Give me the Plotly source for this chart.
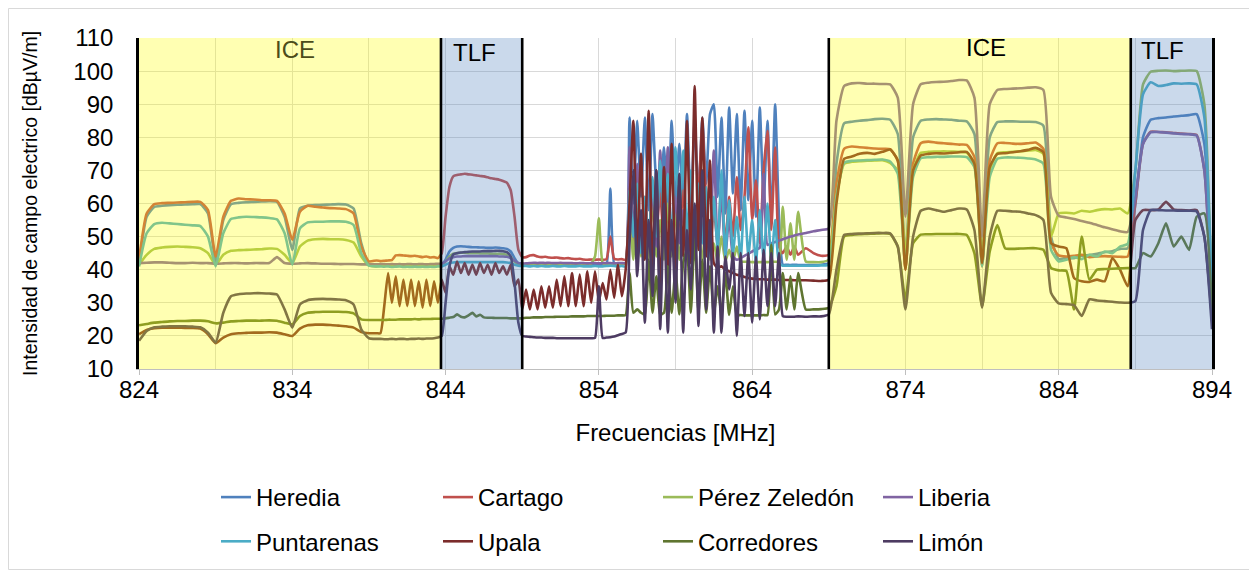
import numpy as np
import plotly.graph_objects as go

# Frequency grid [MHz]: 0.5 MHz steps, 0.25 MHz in the busy middle part
freq = np.round(np.concatenate([
    np.arange(824.0, 839.75, 0.5),     # 32 pts
    np.arange(839.75, 867.01, 0.25),   # 110 pts
    np.arange(867.5, 894.01, 0.5),     # 54 pts
]), 2)

# ---------------- series values [dBuV/m] ----------------
heredia = (
    [41.5, 56.0, 59.0, 59.3, 59.5, 59.6, 59.7, 59.8, 59.8, 57.0, 42.5, 55.0, 59.8, 60.2, 60.4, 60.5,
     60.6, 60.7, 60.5, 56.0, 46.0, 58.5, 59.3, 59.5, 59.6, 59.7, 59.8, 59.7, 58.5, 48.0, 41.5, 41.3]
    + [41.3, 41.2, 41.3, 41.2, 41.2, 41.3, 41.2, 41.1, 41.2, 41.2, 41.1, 41.2, 41.2, 41.1, 41.2, 41.3]
    + [41.5, 43.0, 45.5, 46.6, 47.0, 47.1, 47.0, 46.9, 46.8, 46.8, 46.7, 46.7, 46.6, 46.6, 46.7, 46.6,
       46.5, 46.3, 45.5, 43.5, 41.8, 41.5]
    + [41.5, 41.6, 41.5, 41.5, 41.4, 41.5, 41.4, 41.4, 41.5, 41.4, 41.4, 41.4, 41.3, 41.4, 41.4, 41.3,
       41.4, 41.4, 41.3, 41.4, 41.4, 41.5, 64.5, 41.8, 41.5, 41.6]
    + [42, 86, 60, 85, 62, 86, 58, 87, 66, 62, 77, 56, 85, 60, 78, 60, 87, 58, 85, 62, 86, 66, 87, 90,
       62, 86, 57, 89, 63, 87, 58, 88, 61, 85, 56, 89, 60, 85, 55, 90, 56, 41.5]
    + [41.5, 41.4, 41.5, 41.4]
    + [41.4, 41.4, 41.5, 42.0, 72.0, 84.2, 84.7, 85.0, 85.2, 85.5, 85.6, 85.3, 81.0, 43.0, 80.0, 85.0,
       85.4, 85.5, 85.4, 85.3, 85.0, 84.8, 81.0, 42.0, 80.0, 84.6, 84.8, 84.8, 84.7, 84.7, 84.6, 83.5,
       50.0, 43.2, 43.6, 43.5, 44.2, 44.4, 44.8, 45.3, 45.6, 46.3, 46.5, 60.0, 80.0, 85.3, 85.8, 86.0,
       86.3, 86.5, 86.7, 87.0, 78.0, 35.0]
)
cartago = (
    [43.0, 57.0, 59.8, 60.1, 60.2, 60.3, 60.4, 60.5, 60.5, 58.0, 44.0, 56.0, 60.8, 61.5, 61.3, 61.2,
     61.0, 61.0, 60.8, 57.0, 49.0, 57.5, 59.3, 59.0, 58.8, 58.6, 58.5, 58.3, 57.0, 47.0, 42.5, 42.8]
    + [42.6, 42.7, 42.8, 42.9, 44.3, 44.4, 44.3, 44.2, 44.1, 44.2, 44.0, 43.8, 44.0, 43.7, 43.8, 43.5]
    + [45.0, 56.0, 65.0, 68.2, 68.6, 68.8, 69.0, 68.8, 68.7, 68.5, 68.3, 68.2, 67.9, 67.6, 67.4, 67.2,
       66.8, 66.3, 64.0, 56.0, 46.0, 43.8]
    + [43.8, 44.3, 44.4, 44.0, 43.8, 43.9, 43.7, 43.6, 43.7, 43.5, 43.4, 43.5, 43.3, 43.2, 43.3, 43.1,
       43.0, 43.1, 43.0, 43.1, 43.0, 43.2, 50.0, 43.3, 43.1, 43.2]
    + [43, 66, 48, 64, 50, 62, 47, 60, 52, 63, 48, 58, 46, 61, 50, 64, 48, 56, 47, 62, 84, 60, 45, 58,
       48, 66, 47, 62, 50, 68, 52, 62, 83, 55, 67, 48, 70, 82, 52, 77, 47, 45]
    + [47.0, 44.5, 47.0, 44.5]
    + [46.5, 45.0, 44.2, 44.5, 66.0, 76.5, 77.2, 77.0, 76.8, 76.6, 76.5, 76.4, 73.0, 40.0, 72.0, 78.2,
       78.7, 78.4, 78.2, 78.0, 77.8, 77.7, 74.0, 41.0, 73.0, 78.2, 78.3, 78.1, 78.0, 78.2, 78.4, 76.5,
       48.0, 44.3, 44.0, 44.2, 44.5, 43.8, 44.0, 44.1, 44.0, 43.9, 44.0, 60.0, 78.0, 81.7, 81.6, 81.5,
       81.3, 81.1, 81.0, 80.7, 70.0, 28.0]
)
perez_zeledon = (
    [41.5, 44.5, 46.3, 46.7, 46.9, 47.0, 46.9, 46.8, 46.5, 45.0, 41.5, 44.5, 45.7, 45.9, 46.0, 46.1,
     46.2, 46.4, 46.3, 44.5, 42.0, 47.0, 48.8, 49.2, 49.3, 49.2, 49.2, 49.0, 48.2, 44.0, 41.3, 41.0]
    + [41.2, 41.3, 41.2, 41.3, 41.2, 41.3, 41.4, 41.3, 41.2, 41.3, 41.2, 41.3, 41.2, 41.3, 41.2, 41.3]
    + [41.3, 42.5, 44.0, 44.8, 45.0, 45.1, 45.1, 45.0, 45.0, 45.0, 44.9, 44.9, 44.9, 44.8, 44.8, 44.8,
       44.7, 44.5, 43.8, 42.5, 41.6, 41.5]
    + [41.5, 41.6, 41.6, 41.5, 41.6, 41.6, 41.5, 41.6, 41.6, 41.5, 41.6, 41.6, 41.5, 41.6, 41.6, 41.5,
       41.6, 41.8, 44.0, 55.5, 42.0, 41.6, 41.6, 41.6, 41.6, 41.7]
    + [42, 58, 43, 66, 44, 52, 43, 62, 44, 55, 43, 60, 44, 58, 43, 53, 44, 56, 43, 50, 43, 55, 43, 48,
       42.5, 50, 42.5, 46, 42.5, 47, 42.5, 42.4, 42.4, 42.3, 42.3, 42.3, 42.3, 42.3, 42.4, 42.4, 42.5, 59]
    + [43.0, 54.0, 43.0, 57.5]
    + [42.5, 42.3, 42.3, 43.0, 62.0, 72.0, 72.6, 72.8, 72.9, 73.0, 73.1, 72.3, 70.0, 45.0, 70.0, 75.3,
       75.6, 75.7, 75.8, 75.7, 75.6, 75.4, 72.0, 44.0, 70.0, 75.2, 75.5, 75.6, 75.8, 76.0, 76.2, 75.0,
       50.0, 57.0, 57.2, 57.0, 57.8, 57.5, 58.0, 58.3, 58.2, 58.5, 57.0, 70.0, 96.0, 99.8, 100.1, 100.2,
       100.0, 100.1, 100.2, 100.0, 90.0, 30.0]
)
liberia = (
    [42.0, 42.1, 42.2, 42.2, 42.1, 42.0, 42.0, 42.1, 42.0, 42.0, 41.8, 41.9, 42.0, 42.0, 41.9, 42.0,
     42.0, 42.0, 43.8, 42.0, 41.8, 41.9, 42.0, 41.9, 41.8, 41.8, 41.7, 41.7, 41.7, 41.6, 41.6, 41.6]
    + [41.7, 41.7, 41.6, 41.7, 41.6, 41.7, 41.6, 41.7, 41.7, 41.6, 41.7, 41.7, 41.6, 41.7, 41.7, 41.8]
    + [41.8, 42.5, 43.4, 43.8, 44.0, 44.0, 44.1, 44.1, 44.1, 44.1, 44.1, 44.1, 44.1, 44.1, 44.1, 44.0,
       44.0, 43.9, 43.5, 42.7, 42.0, 41.9]
    + [41.9, 42.0, 42.1, 42.0, 42.1, 42.0, 42.1, 42.0, 42.0, 42.1, 42.0, 42.0, 42.0, 41.9, 42.0, 42.0,
       41.9, 42.0, 42.0, 41.9, 42.0, 42.0, 42.0, 41.9, 42.0, 42.0]
    + [42, 77, 50, 72, 46, 60, 48, 65, 47, 76, 50, 77, 46, 62, 48, 58, 45, 60, 47, 66, 48, 62, 45, 76,
       47, 63, 44, 56, 44, 43.0, 43.5, 44.2, 44.8, 45.5, 46.1, 46.6, 69.0, 47.5, 48.0, 48.4, 48.8, 49.2]
    + [49.6, 50.0, 50.3, 50.6]
    + [51.1, 51.6, 52.0, 52.5, 85.0, 95.5, 96.3, 96.4, 96.2, 96.2, 96.1, 96.0, 92.0, 56.0, 90.0, 96.0,
       96.5, 96.7, 96.8, 97.0, 97.3, 97.2, 92.0, 50.0, 90.0, 94.3, 94.6, 94.7, 94.8, 95.0, 95.1, 94.3,
       62.0, 56.3, 55.8, 55.3, 54.7, 54.2, 53.5, 52.8, 52.2, 51.6, 51.4, 62.0, 78.0, 81.5, 81.6, 81.4,
       81.2, 81.0, 80.9, 80.5, 70.0, 30.0]
)
puntarenas = (
    [41.0, 51.0, 53.8, 54.2, 54.0, 53.8, 53.6, 53.4, 53.2, 50.0, 41.0, 51.0, 55.3, 55.8, 56.0, 55.9,
     55.8, 55.6, 55.2, 51.0, 41.5, 52.5, 54.3, 54.5, 54.5, 54.6, 54.6, 54.5, 53.5, 45.0, 41.2, 41.0]
    + [41.0, 40.9, 41.0, 40.8, 40.9, 41.0, 40.8, 40.9, 40.8, 40.9, 40.8, 40.9, 40.8, 40.9, 40.8, 41.0]
    + [41.0, 41.5, 42.0, 42.2, 42.3, 42.3, 42.3, 42.3, 42.3, 42.3, 42.3, 42.3, 42.3, 42.3, 42.3, 42.3,
       42.3, 42.2, 42.0, 41.5, 41.2, 41.1]
    + [41.1, 41.0, 41.1, 41.0, 41.1, 41.0, 41.0, 41.1, 41.0, 41.0, 41.1, 41.0, 41.0, 41.0, 41.1, 41.0,
       41.0, 41.0, 41.1, 41.0, 41.0, 41.1, 41.2, 41.1, 41.0, 41.1]
    + [41, 64, 50, 66, 45, 62, 48, 68, 50, 73, 52, 69, 47, 77, 55, 76, 50, 70, 46, 66, 48, 65, 44, 62,
       46, 70, 44, 61, 45, 56, 43, 62, 44, 55, 42, 58, 43, 60, 42, 55, 42, 41.2]
    + [41.2, 41.2, 41.2, 41.2]
    + [41.2, 41.2, 41.3, 41.5, 62.0, 72.3, 72.9, 73.0, 73.1, 73.2, 73.3, 72.7, 69.0, 41.0, 68.0, 73.7,
       74.0, 74.1, 74.1, 74.2, 74.2, 74.0, 71.0, 41.0, 68.0, 73.5, 73.9, 73.9, 73.8, 73.6, 73.3, 72.0,
       46.0, 42.5, 43.0, 43.8, 43.2, 44.5, 44.0, 45.5, 45.0, 47.0, 47.8, 70.0, 93.0, 96.6, 95.5, 95.8,
       96.3, 96.2, 96.3, 96.0, 86.0, 30.0]
)
upala = (
    [20.5, 21.8, 22.3, 22.5, 22.5, 22.5, 22.4, 22.4, 22.2, 20.5, 17.8, 19.5, 20.5, 20.8, 20.9, 21.0,
     21.0, 21.1, 21.0, 20.5, 20.0, 22.2, 23.2, 23.4, 23.4, 23.3, 23.1, 22.9, 22.5, 21.2, 20.8, 20.8]
    + [20.8, 29.0, 39.0, 30.0, 38.0, 29.0, 37.0, 29.0, 37.0, 29.0, 36.5, 28.5, 37.0, 29.0, 36.5, 30.0]
    + [37.0, 33.0, 41.0, 38.5, 42.5, 39.0, 42.0, 38.5, 41.5, 38.5, 42.0, 39.0, 41.5, 38.5, 42.0, 39.0,
       41.0, 38.5, 41.5, 35.0, 37.0, 28.0]
    + [34, 28, 34, 28, 35, 28.5, 35, 28.5, 37, 29, 38, 29, 39, 29, 38.5, 29, 39.5, 30, 39.5, 30.5,
       36, 31, 40, 31.5, 41.5, 32]
    + [40, 60, 85, 44, 75, 43, 88, 40, 70, 31, 71, 41, 78, 39, 66, 44, 85, 42, 95.5, 46, 86, 44, 73, 42,
       40.5, 41, 40, 39.5, 39, 38.5, 38.2, 37.8, 37.5, 37.3, 37.2, 37.1, 37.1, 37.0, 37.0, 37.0, 36.9, 36.9]
    + [36.9, 36.9, 36.8, 36.8]
    + [36.8, 36.7, 36.6, 37.0, 60.0, 73.5, 74.2, 75.0, 75.3, 75.0, 75.6, 76.3, 73.0, 40.0, 70.0, 74.5,
       75.0, 75.2, 75.1, 75.3, 75.5, 75.6, 72.0, 42.0, 71.0, 75.0, 75.2, 75.5, 75.8, 76.2, 76.8, 75.5,
       48.0, 47.0, 46.5, 37.5, 36.5, 36.3, 37.0, 36.5, 43.5, 40.0, 35.0, 55.0, 58.0, 58.0, 58.2, 60.5,
       58.2, 58.0, 57.9, 58.0, 50.0, 25.0]
)
corredores = (
    [23.2, 23.6, 24.0, 24.2, 24.4, 24.5, 24.5, 24.6, 24.6, 24.4, 23.8, 24.0, 24.4, 24.5, 24.6, 24.6,
     24.6, 24.7, 24.6, 24.0, 23.5, 26.0, 27.0, 27.2, 27.3, 27.3, 27.3, 27.2, 26.8, 25.0, 24.8, 24.8]
    + [24.8, 24.8, 24.9, 24.9, 24.9, 25.0, 25.0, 25.0, 25.0, 25.1, 25.0, 25.1, 25.1, 25.1, 25.2, 25.2]
    + [25.2, 25.3, 25.5, 25.7, 26.5, 25.8, 25.6, 26.2, 27.0, 25.9, 26.4, 25.6, 25.5, 25.5, 25.4, 25.4,
       25.4, 25.4, 25.3, 25.3, 25.3, 25.3]
    + [25.5, 25.5, 25.6, 25.6, 25.6, 25.7, 25.7, 25.7, 25.8, 25.8, 25.8, 25.8, 25.9, 25.9, 25.9, 25.9,
       26.0, 26.0, 26.0, 26.0, 26.0, 26.1, 26.1, 26.1, 26.2, 26.2]
    + [26.3, 39, 27, 28, 27, 26.5, 43, 27, 38, 26.5, 27, 41, 27, 40, 26.5, 42, 46, 27, 51, 27, 43, 27,
       41, 26.5, 35, 26.5, 39, 26.3, 35, 26.3, 26.3, 26.2, 26.2, 26.2, 26.2, 26.2, 26.3, 26.3, 47.5,
       26.5, 28, 39]
    + [28.0, 38.0, 28.0, 39.0]
    + [28.0, 28.0, 28.1, 28.5, 35.0, 50.0, 50.5, 50.7, 50.8, 50.9, 51.0, 50.8, 47.0, 31.0, 48.0, 50.6,
       50.7, 50.8, 50.8, 50.8, 50.8, 50.5, 45.0, 29.0, 45.5, 53.5, 46.5, 46.3, 46.4, 46.5, 46.5, 46.0,
       40.5, 39.8, 39.6, 28.0, 50.0, 37.0, 40.0, 40.2, 40.3, 40.4, 40.5, 40.5, 45.0, 44.0, 48.0, 54.0,
       47.0, 50.0, 46.0, 56.0, 57.0, 27.0]
)
limon = (
    [18.5, 21.5, 22.6, 22.8, 22.9, 22.9, 22.9, 22.8, 22.6, 21.0, 18.0, 27.0, 32.0, 32.6, 32.8, 32.9,
     32.9, 32.8, 32.5, 28.0, 22.5, 29.5, 30.8, 31.1, 31.2, 31.1, 31.0, 30.8, 29.5, 22.0, 19.3, 19.1]
    + [19.1, 19.0, 19.0, 19.1, 19.0, 19.1, 19.1, 19.0, 19.1, 19.1, 19.2, 19.1, 19.2, 19.2, 19.3, 19.5]
    + [20.0, 30.0, 41.0, 44.6, 45.0, 45.2, 45.3, 45.4, 45.5, 45.5, 45.5, 45.6, 45.6, 45.6, 45.7, 45.7,
       45.6, 45.3, 44.0, 36.0, 24.0, 20.0]
    + [19.8, 19.7, 19.6, 19.5, 19.5, 19.4, 19.4, 19.4, 19.3, 19.3, 19.3, 19.3, 19.3, 19.3, 19.3, 19.3,
       19.3, 19.3, 19.4, 35.0, 19.4, 19.5, 19.6, 19.8, 20.2, 20.6]
    + [21, 48, 70, 38, 58, 24, 55, 32, 70, 22, 60, 21, 55, 30, 69, 21, 52, 34, 60, 23, 70, 28, 55, 21,
       47, 21, 44, 34, 45, 20, 45, 26, 45, 24, 44, 25, 46, 29, 45, 29, 45, 26]
    + [25.8, 25.8, 25.8, 25.9]
    + [25.8, 25.9, 25.9, 26.5, 40.0, 50.5, 50.8, 50.9, 51.0, 51.1, 51.1, 51.0, 47.0, 28.0, 50.0, 57.8,
       58.5, 58.0, 57.5, 58.0, 58.5, 58.2, 52.0, 28.5, 50.0, 57.8, 57.8, 57.6, 57.5, 57.0, 56.5, 55.0,
       33.0, 29.8, 29.6, 29.3, 26.0, 31.0, 30.7, 30.5, 30.3, 30.1, 30.0, 30.5, 52.0, 58.0, 58.0, 57.9,
       57.9, 57.8, 57.8, 57.6, 50.0, 22.0]
)

series_names = ["Heredia", "Cartago", "Pérez Zeledón", "Liberia",
                "Puntarenas", "Upala", "Corredores", "Limón"]
series_values = [heredia, cartago, perez_zeledon, liberia,
                 puntarenas, upala, corredores, limon]
series_colors = ["#4F81BD", "#C0504D", "#9BBB59", "#8064A2",
                 "#4BACC6", "#7B2C2B", "#5F7530", "#4D3B62"]
legend_ids = ["legend", "legend2", "legend3", "legend4",
              "legend", "legend2", "legend3", "legend4"]

# operator bands
band_edges = [824.0, 843.7, 849.0, 869.0, 888.7, 894.0]
band_labels = ["ICE", "TLF", "ICE", "TLF"]
band_label_x = [834.2, 845.9, 879.25, 890.8]
band_label_y = [106.6, 105.7, 107.2, 106.2]

for n, v in zip(series_names, series_values):
    if len(v) != len(freq):
        raise ValueError(f"{n}: {len(v)} values vs {len(freq)} frequencies")

FONT = "Liberation Sans, Arial, sans-serif"
fig = go.Figure()
for name, vals, col, leg in zip(series_names, series_values, series_colors, legend_ids):
    fig.add_trace(go.Scatter(
        x=freq, y=vals, mode="lines", name=name, legend=leg, legendgroup=name,
        line=dict(color=col, width=2.6, shape="spline", smoothing=0.5),
    ))

# the page body has an 8 px margin: figure is laid out in page pixels minus 8
OFF = 8
W, H = 1257 - OFF, 570 - OFF
L, R, T, B = 139 - OFF, 45, 38 - OFF, 201
pw, ph = W - L - R, H - T - B


def px_x(p):
    return (p - OFF - L) / pw


def px_y(p):
    return (H - B - (p - OFF)) / ph


shapes = []
band_fill = ["rgba(255,255,0,0.30)", "rgba(79,129,189,0.30)", None,
             "rgba(255,255,0,0.30)", "rgba(79,129,189,0.30)"]
for i, fc in enumerate(band_fill):
    if fc is None:
        continue
    shapes.append(dict(type="rect", xref="x", yref="y", x0=band_edges[i], x1=band_edges[i + 1],
                       y0=10, y1=110, fillcolor=fc, line=dict(width=0), layer="above"))
for xe in band_edges[1:-1]:
    shapes.append(dict(type="line", xref="x", yref="y", x0=xe, x1=xe, y0=10, y1=110,
                       line=dict(color="black", width=2.6), layer="above"))
# chart-area border
shapes.append(dict(type="rect", xref="paper", yref="paper",
                   x0=(0.5 - L) / pw, x1=(W - 0.5 - L) / pw,
                   y0=(-(B - 0.5)) / ph, y1=1 + (T - 0.5) / ph,
                   line=dict(color="#D9D9D9", width=1), fillcolor="rgba(0,0,0,0)", layer="below"))

label_colors = ["#4C4C1A", "black", "black", "black"]
annotations = [
    dict(x=x, y=y, xref="x", yref="y", text=t, showarrow=False,
         font=dict(family=FONT, size=24, color=c))
    for t, x, y, c in zip(band_labels, band_label_x, band_label_y, label_colors)
]

leg_common = dict(orientation="v", xanchor="left", yanchor="middle", y=px_y(519.5),
                  bgcolor="rgba(0,0,0,0)", tracegroupgap=10,
                  font=dict(family=FONT, size=24, color="black"))

fig.update_layout(
    width=W, height=H,
    margin=dict(l=L, r=R, t=T, b=B, autoexpand=False),
    paper_bgcolor="white", plot_bgcolor="white",
    font=dict(family=FONT, size=24, color="black"),
    shapes=shapes, annotations=annotations,
    legend=dict(x=px_x(216), **leg_common),
    legend2=dict(x=px_x(438), **leg_common),
    legend3=dict(x=px_x(658), **leg_common),
    legend4=dict(x=px_x(878), **leg_common),
    xaxis=dict(range=[824, 894], tick0=824, dtick=10, showgrid=True, gridcolor="#D9D9D9",
               gridwidth=1.3, zeroline=False, showline=True, linecolor="#BFBFBF", linewidth=1.3,
               ticks="outside", ticklen=5, tickcolor="#BFBFBF", ticklabelstandoff=-6,
               tickfont=dict(family=FONT, size=24, color="black"),
               minor=dict(tick0=824, dtick=5, showgrid=True, gridcolor="#D9D9D9", gridwidth=1.3),
               title=dict(text="Frecuencias [MHz]", standoff=22,
                          font=dict(family=FONT, size=24, color="black"))),
    yaxis=dict(range=[10, 110], dtick=10, showgrid=True, gridcolor="#D9D9D9", gridwidth=1.3,
               zeroline=False, showline=True, linecolor="black", linewidth=2.6, mirror=True,
               ticks="", ticklabelstandoff=18,
               tickfont=dict(family=FONT, size=24, color="black"),
               title=dict(text="Intensidad de campo electrico [dBµV/m]", standoff=31,
                          font=dict(family=FONT, size=19.5, color="black"))),
)

fig.write_html("out.html")
